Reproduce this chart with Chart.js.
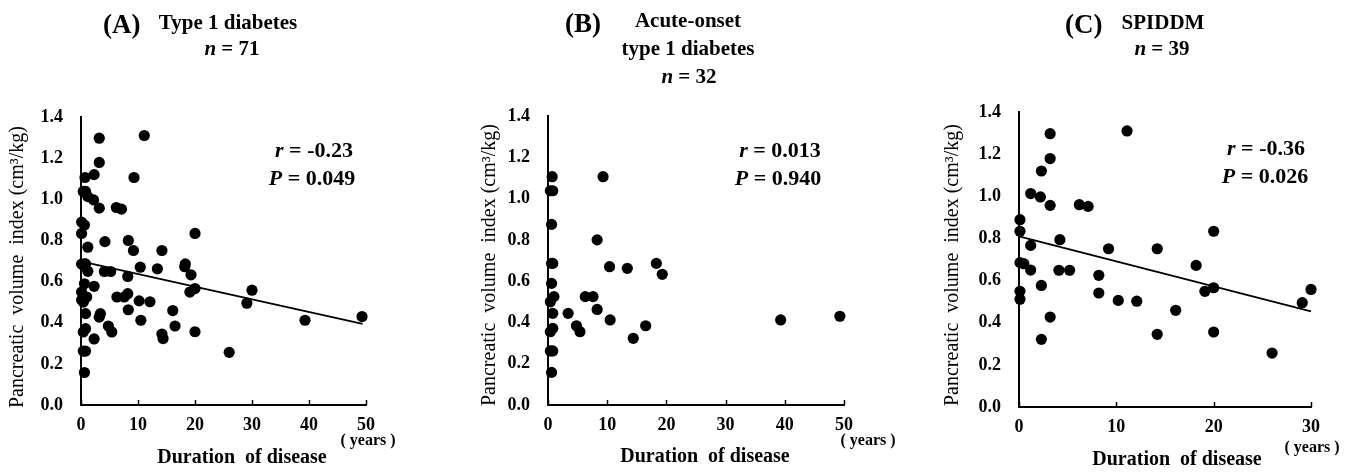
<!DOCTYPE html>
<html><head><meta charset="utf-8">
<script src="https://cdn.jsdelivr.net/npm/chart.js@4.4.0/dist/chart.umd.min.js"></script>
<style>
html,body{margin:0;padding:0;background:#fff;}
#wrap{position:relative;width:1363px;height:473px;overflow:hidden;background:#fff;}
canvas{position:absolute;left:0;top:0;}
</style></head><body>
<div id="wrap">
<canvas id="cA" width="1363" height="473"></canvas>
<canvas id="cB" width="1363" height="473"></canvas>
<canvas id="cC" width="1363" height="473"></canvas>
</div>
<script>
// ---------- DATA ----------
const xTicks50 = [0, 10, 20, 30, 40, 50];
const xTicks30 = [0, 10, 20, 30];
const yTicks = [0, 0.2, 0.4, 0.6, 0.8, 1.0, 1.2, 1.4];

// (B) Acute-onset type 1 diabetes, n = 32
const bDuration = [0.7, 9.3, 0.4, 0.8, 0.6, 8.3, 0.6, 0.8, 10.4, 13.4, 18.3, 19.3, 0.6, 1.0, 0.4, 6.3,
                   7.6, 8.3, 3.4, 0.8, 10.5, 4.8, 5.4, 16.5, 14.4, 0.8, 0.4, 0.8, 0.4, 0.6, 39.3, 49.3];
const bIndex    = [1.106, 1.106, 1.038, 1.038, 0.875, 0.80, 0.686, 0.686, 0.67, 0.662, 0.686, 0.633, 0.589, 0.525, 0.50, 0.525,
                   0.525, 0.463, 0.444, 0.444, 0.412, 0.384, 0.355, 0.384, 0.323, 0.371, 0.355, 0.262, 0.262, 0.158, 0.412, 0.43];

// (C) SPIDDM, n = 39
const cDuration = [3.2, 11.1, 3.2, 2.3, 1.2, 2.2, 3.2, 6.2, 7.1, 0.1, 0.1, 20.0, 1.2, 4.2, 9.2, 14.2, 0.1, 0.5, 1.2, 4.1,
                   5.2, 8.2, 18.2, 2.3, 0.1, 0.1, 8.2, 10.2, 12.1, 19.1, 20.0, 30.0, 29.1, 16.1, 3.2, 14.2, 20.0, 2.3, 26.0];
const cIndex    = [1.297, 1.31, 1.179, 1.12, 1.013, 0.997, 0.957, 0.96, 0.952, 0.889, 0.834, 0.834, 0.767, 0.794, 0.751, 0.751, 0.685, 0.68, 0.65, 0.649,
                   0.649, 0.625, 0.672, 0.577, 0.549, 0.511, 0.541, 0.506, 0.502, 0.549, 0.566, 0.558, 0.495, 0.459, 0.427, 0.345, 0.356, 0.321, 0.256];

// (A) Type 1 diabetes, n = 71 (= B + C)
const aDuration = bDuration.concat(cDuration);
const aIndex    = bIndex.concat(cIndex);

// regression lines
const regADuration = [0, 49.4];
const regAIndex    = [0.698, 0.394];
const regCDuration = [0, 30];
const regCIndex    = [0.81, 0.454];

const FONT = '"Liberation Serif", "Times New Roman", serif';

function pts(xs, ys) { return xs.map((x, i) => ({x: x, y: ys[i]})); }

function drawRuns(ctx, runs, cx, baseline) {
  let total = 0;
  runs.forEach(r => { ctx.font = r.f; r.w = ctx.measureText(r.t).width; total += r.w; });
  let x = cx - total / 2;
  ctx.textAlign = 'left';
  ctx.textBaseline = 'alphabetic';
  runs.forEach(r => { ctx.font = r.f; ctx.fillText(r.t, x, baseline); x += r.w; });
}
function drawLeft(ctx, text, font, x, baseline) {
  ctx.font = font; ctx.textAlign = 'left'; ctx.textBaseline = 'alphabetic';
  ctx.fillText(text, x, baseline);
}
const B = s => 'bold ' + s + 'px ' + FONT;
const BI = s => 'italic bold ' + s + 'px ' + FONT;

function makePanel(id, cfg) {
  const textPlugin = {
    id: 'texts' + id,
    afterDatasetsDraw(chart) {
      const ctx = chart.ctx;
      const xs = chart.scales.x, ys = chart.scales.y;
      ctx.save();
      ctx.fillStyle = '#000';
      ctx.strokeStyle = '#000';
      // inward x tick marks
      ctx.lineWidth = 1.5;
      cfg.xTicks.forEach(v => {
        const px = Math.round(xs.getPixelForValue(v)) + 0.5;
        ctx.beginPath(); ctx.moveTo(px, ys.bottom); ctx.lineTo(px, ys.bottom - 5); ctx.stroke();
      });
      // panel letter + title
      drawLeft(ctx, cfg.letter, B(27), cfg.letterX, cfg.letterBase);
      cfg.titleLines.forEach(l => drawRuns(ctx, l.runs, l.cx, l.base));
      // statistics
      cfg.stats.forEach(l => drawRuns(ctx, l.runs, l.cx, l.base));
      // y axis title
      ctx.save();
      ctx.translate(cfg.yTitleX, cfg.yTitleY);
      ctx.rotate(-Math.PI / 2);
      ctx.font = '20px ' + FONT;
      ctx.textAlign = 'center'; ctx.textBaseline = 'middle';
      ctx.fillText('Pancreatic  volume  index (cm\u00B3/kg)', 0, 0);
      ctx.restore();
      // x axis title and unit
      drawRuns(ctx, [{t: 'Duration  of disease', f: B(20)}], cfg.xTitleX, cfg.xTitleBase);
      drawRuns(ctx, [{t: '( years )', f: B(16)}], cfg.unitX, cfg.unitBase);
      ctx.restore();
    }
  };
  const datasets = [{
    data: pts(cfg.xs, cfg.ys),
    backgroundColor: '#000', borderColor: '#000', borderWidth: 0,
    pointRadius: 5.6, pointHoverRadius: 5.6, clip: false, order: 1
  }];
  if (cfg.regX) {
    datasets.push({
      data: pts(cfg.regX, cfg.regY), showLine: true,
      borderColor: '#000', borderWidth: 1.8, pointRadius: 0, pointHoverRadius: 0,
      fill: false, clip: false, order: 0
    });
  }
  const tickFont = {family: FONT, size: 18, weight: 'bold'};
  return new Chart(document.getElementById(id), {
    type: 'scatter',
    data: {datasets: datasets},
    options: {
      responsive: false, animation: false, devicePixelRatio: 1, events: [],
      layout: {padding: {left: cfg.left - 60, right: 1363 - cfg.right, top: cfg.top, bottom: 473 - cfg.bottom - 40}},
      plugins: {legend: {display: false}, tooltip: {enabled: false}},
      scales: {
        x: {
          type: 'linear', min: 0, max: cfg.xMax,
          afterFit: s => { s.height = 40; },
          afterBuildTicks: s => { s.ticks = cfg.xTicks.map(v => ({value: v})); },
          grid: {display: false, drawTicks: false, tickLength: 0},
          border: {display: true, color: '#000', width: 2},
          ticks: {padding: 10, color: '#000', font: tickFont, maxRotation: 0, autoSkip: false}
        },
        y: {
          type: 'linear', min: 0, max: 1.4,
          afterFit: s => { s.width = 60; },
          afterBuildTicks: s => { s.ticks = yTicks.map(v => ({value: v})); },
          grid: {display: false, drawTicks: false, tickLength: 0},
          border: {display: true, color: '#000', width: 2},
          ticks: {padding: 18, color: '#000', font: tickFont, autoSkip: false,
                  callback: v => Number(v).toFixed(1)}
        }
      }
    },
    plugins: [textPlugin]
  });
}

makePanel('cA', {
  xs: aDuration, ys: aIndex, regX: regADuration, regY: regAIndex,
  xMax: 50, xTicks: xTicks50,
  left: 81, right: 366, top: 117, bottom: 405,
  letter: '(A)', letterX: 103, letterBase: 33,
  titleLines: [
    {runs: [{t: 'Type 1 diabetes', f: B(21)}], cx: 228, base: 29},
    {runs: [{t: 'n', f: BI(21)}, {t: ' = 71', f: B(21)}], cx: 232, base: 55}
  ],
  stats: [
    {runs: [{t: 'r', f: BI(22)}, {t: ' = -0.23', f: B(22)}], cx: 314, base: 157},
    {runs: [{t: 'P', f: BI(22)}, {t: ' = 0.049', f: B(22)}], cx: 312, base: 185}
  ],
  yTitleX: 18, yTitleY: 267, xTitleX: 242, xTitleBase: 463, unitX: 368, unitBase: 445
});

makePanel('cB', {
  xs: bDuration, ys: bIndex,
  xMax: 50, xTicks: xTicks50,
  left: 548, right: 844, top: 116, bottom: 405,
  letter: '(B)', letterX: 565, letterBase: 32,
  titleLines: [
    {runs: [{t: 'Acute-onset', f: B(21)}], cx: 688, base: 27},
    {runs: [{t: 'type 1 diabetes', f: B(21)}], cx: 688, base: 55},
    {runs: [{t: 'n', f: BI(21)}, {t: ' = 32', f: B(21)}], cx: 689, base: 83}
  ],
  stats: [
    {runs: [{t: 'r', f: BI(22)}, {t: ' = 0.013', f: B(22)}], cx: 780, base: 157},
    {runs: [{t: 'P', f: BI(22)}, {t: ' = 0.940', f: B(22)}], cx: 778, base: 185}
  ],
  yTitleX: 490, yTitleY: 265, xTitleX: 705, xTitleBase: 462, unitX: 868, unitBase: 445
});

makePanel('cC', {
  xs: cDuration, ys: cIndex, regX: regCDuration, regY: regCIndex,
  xMax: 30, xTicks: xTicks30,
  left: 1019, right: 1311, top: 112, bottom: 407,
  letter: '(C)', letterX: 1065, letterBase: 33,
  titleLines: [
    {runs: [{t: 'SPIDDM', f: B(21)}], cx: 1163, base: 29},
    {runs: [{t: 'n', f: BI(21)}, {t: ' = 39', f: B(21)}], cx: 1162, base: 55}
  ],
  stats: [
    {runs: [{t: 'r', f: BI(22)}, {t: ' = -0.36', f: B(22)}], cx: 1266, base: 155},
    {runs: [{t: 'P', f: BI(22)}, {t: ' = 0.026', f: B(22)}], cx: 1265, base: 183}
  ],
  yTitleX: 953, yTitleY: 265, xTitleX: 1177, xTitleBase: 465, unitX: 1312, unitBase: 452
});
</script>
</body></html>
